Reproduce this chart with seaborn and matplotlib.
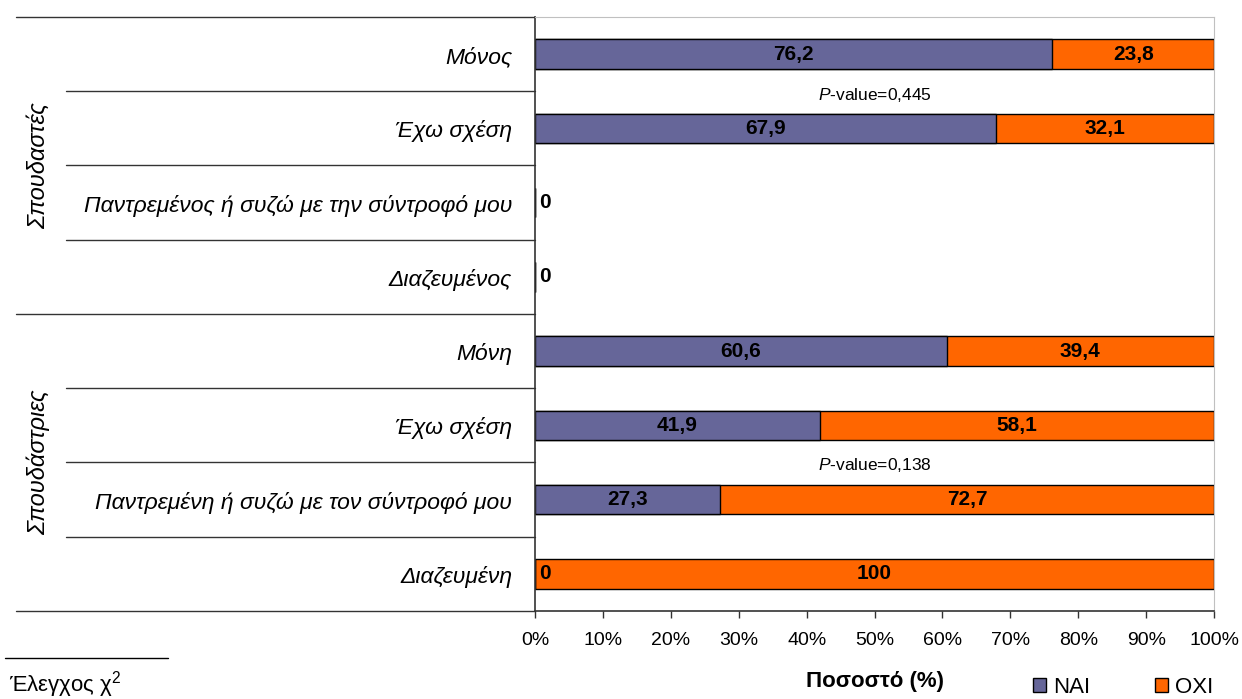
import pandas as pd
import seaborn as sns
import matplotlib.pyplot as plt
from matplotlib.patches import Patch
from matplotlib.transforms import blended_transform_factory

# Data
categories = ['Μόνος', 'Έχω σχέση', 'Παντρεμένος ή συζώ με την σύντροφό μου', 'Διαζευμένος',
              'Μόνη', 'Έχω σχέση', 'Παντρεμένη ή συζώ με τον σύντροφό μου', 'Διαζευμένη']
nai = [76.2, 67.9, 0, 0, 60.6, 41.9, 27.3, 0]
oxi = [23.8, 32.1, 0, 0, 39.4, 58.1, 72.7, 100]
groups = ['Σπουδαστές', 'Σπουδάστριες']
pvalues = ['0,445', '0,138']
xticks = [0, 10, 20, 30, 40, 50, 60, 70, 80, 90, 100]

NAI_COLOR = '#666699'
OXI_COLOR = '#FF6600'

sns.set_style('white')
plt.rcParams['font.family'] = ['Liberation Sans', 'DejaVu Sans']
plt.rcParams['mathtext.fontset'] = 'custom'
plt.rcParams['mathtext.rm'] = 'Liberation Sans'
plt.rcParams['mathtext.it'] = 'Liberation Sans:italic'
plt.rcParams['text.color'] = 'black'
plt.rcParams['axes.labelcolor'] = 'black'
plt.rcParams['xtick.labelcolor'] = 'black'
plt.rcParams['ytick.labelcolor'] = 'black'

df = pd.DataFrame({'key': [f'r{i}' for i in range(len(categories))],
                   'nai': nai, 'oxi': oxi})
df['total'] = df['nai'] + df['oxi']

fig = plt.figure(figsize=(12.42, 6.99), dpi=100)
ax = fig.add_axes([0.4308, 0.1259, 0.5467, 0.8498])

sns.barplot(data=df, x='total', y='key', color=OXI_COLOR, saturation=1, width=0.4,
            edgecolor='black', linewidth=1, errorbar=None, orient='h', ax=ax)
sns.barplot(data=df, x='nai', y='key', color=NAI_COLOR, saturation=1, width=0.4,
            edgecolor='black', linewidth=1, errorbar=None, orient='h', ax=ax)

# value labels
for i, row in df.iterrows():
    if row['nai'] > 0:
        ax.text(row['nai'] / 2, i, f"{row['nai']:.1f}".replace('.', ','), ha='center', va='center',
                fontsize=15, fontweight='bold')
    else:
        ax.text(0.6, i, '0', ha='left', va='center', fontsize=15, fontweight='bold')
    if row['oxi'] > 0:
        txt = f"{row['oxi']:.1f}".replace('.', ',') if row['oxi'] % 1 else f"{int(row['oxi'])}"
        ax.text(row['nai'] + row['oxi'] / 2, i, txt, ha='center', va='center',
                fontsize=15, fontweight='bold')

ax.set_xlim(0, 100)
ax.set_ylim(len(categories) - 0.5, -0.5)
ax.set_xticks(xticks)
ax.set_xticklabels([f'{t}%' for t in xticks], fontsize=14)
ax.set_yticks(range(len(categories)))
ax.set_yticklabels(categories, fontsize=16.5, style='italic')
ax.tick_params(axis='y', length=0, pad=16.5)
ax.tick_params(axis='x', direction='out', length=5, width=1, color='#333333', pad=10, bottom=True)
ax.set_yticks([i + 0.5 for i in range(-1, len(categories))], minor=True)
ax.tick_params(axis='y', which='minor', direction='out', length=5, color='#333333', left=True)
ax.set_xlabel('Ποσοστό (%)', fontsize=16, fontweight='bold', va='center')
ax.xaxis.set_label_coords(0.5, -0.1195)
ax.set_ylabel('')

for side in ['top', 'right']:
    ax.spines[side].set_color('#c0c0c0')
for side in ['left', 'bottom']:
    ax.spines[side].set_color('#333333')
    ax.spines[side].set_linewidth(1.2)

# separator lines on the category side
trans = blended_transform_factory(ax.transAxes, ax.transData)
for b in [i + 0.5 for i in range(-1, len(categories))]:
    start = -0.764 if b in (-0.5, 3.5, 7.5) else -0.691
    ax.plot([start, 0], [b, b], color='#333333', lw=1, transform=trans, clip_on=False)

# group labels
for g, yc in zip(groups, [1.5, 5.5]):
    ax.text(-0.731, yc, g, rotation=90, ha='center', va='center', fontsize=17,
            style='italic', transform=trans)

# p-values
for p, yp in zip(pvalues, [0.55, 5.53]):
    ax.text(50, yp, f'$\\it{{P}}$-value={p}', ha='center', va='center', fontsize=12.5)

# footnote
fig.add_artist(plt.Line2D([0.004, 0.135], [0.059, 0.059], color='black', lw=1))
fig.text(0.007, 0.02, 'Έλεγχος χ$^2$', fontsize=16, ha='left', va='center')

handles = [Patch(facecolor=NAI_COLOR, edgecolor='black', label='ΝΑΙ'),
           Patch(facecolor=OXI_COLOR, edgecolor='black', label='ΟΧΙ')]
fig.legend(handles=handles, loc='center left', bbox_to_anchor=(1033 / 1242, 0.017), ncol=2,
           frameon=False, fontsize=16, handlelength=0.6, handleheight=0.6, handletextpad=0.3,
           columnspacing=2.9, borderpad=0, borderaxespad=0)

fig.savefig('out.png', dpi=100)
